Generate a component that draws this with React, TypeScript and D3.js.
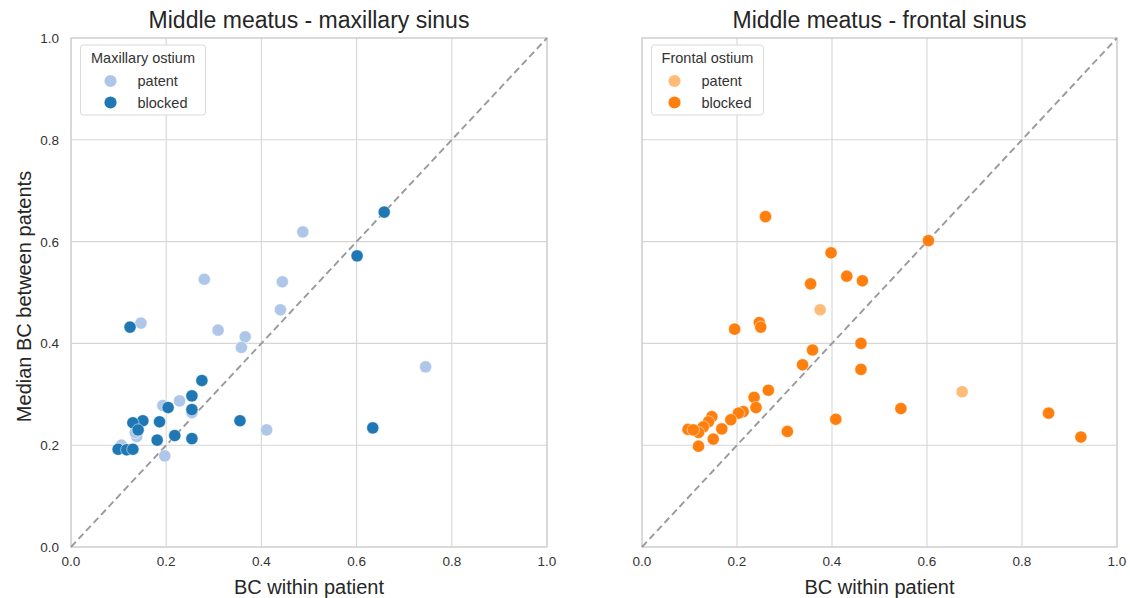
import React from 'react'
import * as d3 from 'd3'

// maxillary sinus: [BC within patient, median BC between patients]
const maxPatent: [number, number][] = [
  [0.487, 0.619], [0.280, 0.526], [0.444, 0.521], [0.440, 0.466], [0.309, 0.426],
  [0.147, 0.440], [0.366, 0.413], [0.358, 0.392], [0.745, 0.354], [0.411, 0.230],
  [0.193, 0.278], [0.228, 0.287], [0.254, 0.264], [0.138, 0.217], [0.135, 0.225],
  [0.197, 0.179], [0.106, 0.200]
]
const maxBlocked: [number, number][] = [
  [0.658, 0.658], [0.601, 0.572], [0.124, 0.432], [0.275, 0.327], [0.254, 0.297],
  [0.254, 0.270], [0.204, 0.274], [0.151, 0.248], [0.130, 0.244], [0.186, 0.246],
  [0.141, 0.230], [0.355, 0.248], [0.634, 0.234], [0.218, 0.219], [0.181, 0.210],
  [0.254, 0.213], [0.099, 0.192], [0.117, 0.191], [0.130, 0.192]
]

// frontal sinus
const frontPatent: [number, number][] = [
  [0.375, 0.466], [0.674, 0.305]
]
const frontBlocked: [number, number][] = [
  [0.260, 0.649], [0.603, 0.602], [0.398, 0.578], [0.431, 0.532], [0.464, 0.523],
  [0.355, 0.517], [0.247, 0.441], [0.250, 0.432], [0.195, 0.428], [0.461, 0.400],
  [0.359, 0.387], [0.338, 0.358], [0.461, 0.349], [0.266, 0.308], [0.236, 0.294],
  [0.240, 0.274], [0.545, 0.272], [0.213, 0.266], [0.203, 0.263], [0.408, 0.251],
  [0.187, 0.250], [0.306, 0.227], [0.168, 0.232], [0.147, 0.256], [0.140, 0.246],
  [0.129, 0.236], [0.119, 0.225], [0.119, 0.198], [0.097, 0.231], [0.108, 0.230],
  [0.150, 0.212], [0.856, 0.263], [0.924, 0.216]
]

const ticks = [0, 0.2, 0.4, 0.6, 0.8, 1.0]
const legendLabels = ['patent', 'blocked']

const FONT = '"Liberation Sans", Arial, sans-serif'
const top = 38
const bottom = 547

function Panel(props: {
  left: number
  right: number
  title: string
  legendTitle: string
  legendWidth: number
  markerDx: number
  labelDx: number
  colors: string[]
  series: [number, number][][]
  showY: boolean
}) {
  const { left, right, title, legendTitle, legendWidth, markerDx, labelDx, colors, series, showY } = props
  const x = d3.scaleLinear().domain([0, 1]).range([left, right])
  const y = d3.scaleLinear().domain([0, 1]).range([bottom, top])
  const lx = left + 9.5
  const ly = 45

  return (
    <g>
      {ticks.map(t => (
        <g key={'g' + t}>
          <line x1={x(t)} x2={x(t)} y1={top} y2={bottom} stroke="#d6d6d6" strokeWidth={1.1} />
          <line x1={left} x2={right} y1={y(t)} y2={y(t)} stroke="#d6d6d6" strokeWidth={1.1} />
          <text x={x(t)} y={bottom + 19} textAnchor="middle" fontSize={13.5} fill="#333">
            {d3.format('.1f')(t)}
          </text>
          {showY && (
            <text x={left - 12} y={y(t) + 5} textAnchor="end" fontSize={13.5} fill="#333">
              {d3.format('.1f')(t)}
            </text>
          )}
        </g>
      ))}
      <rect x={left} y={top} width={right - left} height={bottom - top} fill="none" stroke="#cccccc" strokeWidth={1.1} />
      <line x1={x(0)} y1={y(0)} x2={x(1)} y2={y(1)} stroke="#9a9a9a" strokeWidth={1.9} strokeDasharray="7,4" />
      {series.map((pts, i) => (
        <g key={'s' + i}>
          {pts.map((d, j) => (
            <circle key={j} cx={x(d[0])} cy={y(d[1])} r={6.1} fill={colors[i]} stroke="#ffffff" strokeWidth={0.5} />
          ))}
        </g>
      ))}
      <text x={(left + right) / 2} y={28} textAnchor="middle" fontSize={23} fill="#262626">{title}</text>
      <text x={(left + right) / 2} y={593.5} textAnchor="middle" fontSize={20} fill="#262626">BC within patient</text>
      {showY && (
        <text transform={`translate(31,${(top + bottom) / 2 + 4}) rotate(-90)`} textAnchor="middle" fontSize={20} fill="#262626">
          Median BC between patents
        </text>
      )}
      <rect x={lx} y={ly} width={legendWidth} height={70} rx={3} fill="#ffffff" fillOpacity={0.85} stroke="#d9d9d9" strokeWidth={1} />
      <text x={lx + legendWidth / 2} y={63} textAnchor="middle" fontSize={14.5} fill="#333">{legendTitle}</text>
      {legendLabels.map((lab, i) => (
        <g key={lab}>
          <circle cx={lx + markerDx} cy={81 + i * 21.5} r={6.1} fill={colors[i]} />
          <text x={lx + labelDx} y={86 + i * 21.5} fontSize={14.5} fill="#333">{lab}</text>
        </g>
      ))}
    </g>
  )
}

export default function App() {
  return (
    <svg width={1130} height={598} style={{ position: 'absolute', left: 0, top: 0, fontFamily: FONT }}>
      <rect width={1130} height={598} fill="#ffffff" />
      <Panel
        left={71}
        right={547}
        title="Middle meatus - maxillary sinus"
        legendTitle="Maxillary ostium"
        legendWidth={125}
        markerDx={30}
        labelDx={57}
        colors={['#aec7e8', '#1f77b4']}
        series={[maxPatent, maxBlocked]}
        showY={true}
      />
      <Panel
        left={642}
        right={1117}
        title="Middle meatus - frontal sinus"
        legendTitle="Frontal ostium"
        legendWidth={112}
        markerDx={23}
        labelDx={50}
        colors={['#ffbb78', '#ff7f0e']}
        series={[frontPatent, frontBlocked]}
        showY={false}
      />
    </svg>
  )
}
